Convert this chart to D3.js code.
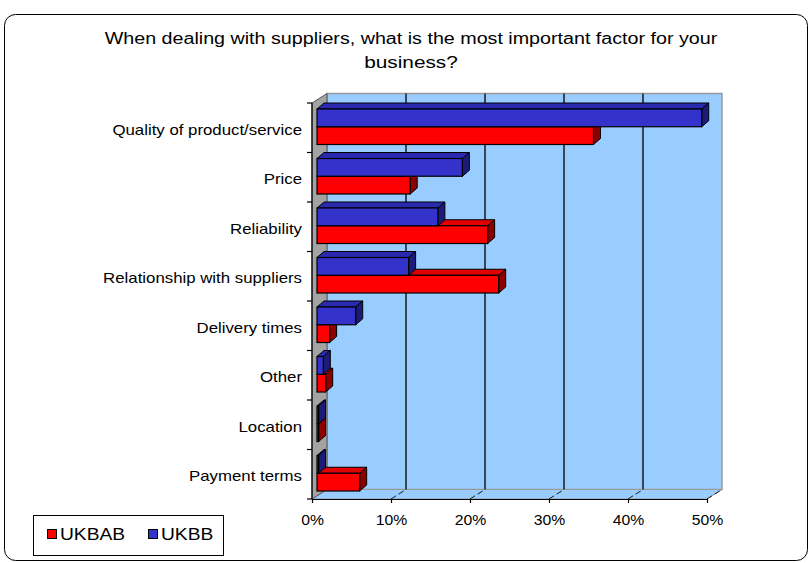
<!DOCTYPE html>
<html><head><meta charset="utf-8">
<script src="https://cdn.jsdelivr.net/npm/d3@7"></script>
<style>
body{margin:0;background:#fff}
svg{display:block}
text{font-family:"Liberation Sans",Arial,sans-serif;fill:#000}
</style>
</head><body>
<svg id="c" width="809" height="563"></svg>
<script>
// ---- data ----
const titleLines = ["When dealing with suppliers, what is the most important factor for your", "business?"];
const categories = ["Quality of product/service", "Price", "Reliability", "Relationship with suppliers", "Delivery times", "Other", "Location", "Payment terms"];
const seriesNames = ["UKBAB", "UKBB"];
const ukbab = [35, 11.8, 21.6, 23, 1.6, 1.1, 0.2, 5.4];
const ukbb  = [48.7, 18.4, 15.3, 11.6, 4.9, 0.8, 0.2, 0.2];
const xTickValues = [0, 10, 20, 30, 40, 50];
const xTickLabels = ["0%", "10%", "20%", "30%", "40%", "50%"];

// ---- styling / layout ----
const colors = {
  UKBAB: {front: "#FF0000", top: "#E00000", side: "#8C0000"},
  UKBB:  {front: "#3333CC", top: "#2A2AB0", side: "#1C1C78"}
};
const svg = d3.select("#c");
const x = d3.scaleLinear().domain([0, 50]).range([312, 707]);
const y = d3.scaleBand().domain(categories).range([103, 499]).padding(0);
const sub = d3.scaleBand().domain(["UKBB", "UKBAB"]).range([6, 41.5]).padding(0);
const D = [15, -9.5];      // wall depth vector
const B = [7, -6];         // bar depth vector
const barShift = 5;        // bar front plane offset in x
const floorY = 499, topY = 103;

function stretch(sel, f) {
  sel.each(function() {
    const w = this.getComputedTextLength();
    d3.select(this).attr("textLength", w * f).attr("lengthAdjust", "spacingAndGlyphs");
  });
}
const poly = pts => "M" + pts.map(p => p.join(",")).join("L") + "Z";

// outer frame
svg.append("rect").attr("x", 4.5).attr("y", 14.5).attr("width", 803).attr("height", 546)
  .attr("rx", 11).attr("fill", "#fff").attr("stroke", "#000").attr("stroke-width", 1);

// title
titleLines.forEach((t, i) => {
  svg.append("text").attr("x", 411).attr("y", 44 + i * 24).attr("text-anchor", "middle")
    .attr("font-size", 16).text(t).call(stretch, i === 0 ? 1.23 : 1.3);
});

// back wall
const x0 = x(0), x1 = x(50);
svg.append("path").attr("d", poly([[x0 + D[0], topY + D[1]], [x1 + D[0], topY + D[1]], [x1 + D[0], floorY + D[1]], [x0 + D[0], floorY + D[1]]]))
  .attr("fill", "#99CCFF").attr("stroke", "#9a9a9a").attr("stroke-width", 1.5);
// floor
svg.append("path").attr("d", poly([[x0, floorY], [x1, floorY], [x1 + D[0], floorY + D[1]], [x0 + D[0], floorY + D[1]]]))
  .attr("fill", "#99CCFF").attr("stroke", "#9a9a9a").attr("stroke-width", 1);
// left side wall
svg.append("path").attr("d", poly([[x0, topY], [x0 + D[0], topY + D[1]], [x0 + D[0], floorY + D[1]], [x0, floorY]]))
  .attr("fill", "#A3A3A3").attr("stroke", "#555").attr("stroke-width", 1);

// gridlines on wall and floor
const grid = xTickValues.filter(v => v > 0 && v < 50);
svg.selectAll(".gw").data(grid).join("line")
  .attr("x1", d => x(d) + D[0]).attr("x2", d => x(d) + D[0])
  .attr("y1", topY + D[1]).attr("y2", floorY + D[1])
  .attr("stroke", "#1a1a1a").attr("stroke-width", 1.5);
svg.selectAll(".gf").data(grid.concat([50])).join("line")
  .attr("x1", d => x(d)).attr("x2", d => x(d) + D[0])
  .attr("y1", floorY).attr("y2", floorY + D[1])
  .attr("stroke", "#1a1a1a").attr("stroke-width", 1).attr("stroke-dasharray", "6,3");

// left front edge with category boundary ticks
svg.append("line").attr("x1", x0).attr("x2", x0).attr("y1", topY).attr("y2", floorY)
  .attr("stroke", "#000").attr("stroke-width", 1.2);
const bounds = categories.map(c => y(c)).concat([y.range()[1]]);
svg.selectAll(".yt").data(bounds).join("line")
  .attr("x1", x0 - 5).attr("x2", x0).attr("y1", d => d).attr("y2", d => d)
  .attr("stroke", "#000").attr("stroke-width", 1.2);

// x axis
const xAxis = d3.axisBottom(x).tickValues(xTickValues)
  .tickFormat((d, i) => xTickLabels[i]).tickSizeInner(4).tickSizeOuter(0);
const gx = svg.append("g").attr("transform", `translate(0,${floorY})`).call(xAxis);
gx.select(".domain").attr("stroke", "#000").attr("stroke-width", 1.2);
gx.selectAll(".tick line").attr("stroke", "#000").attr("stroke-width", 1.2);
gx.selectAll(".tick text").attr("y", 26).attr("dy", 0).attr("font-size", 15)
  .attr("font-family", "Liberation Sans, Arial, sans-serif").attr("fill", "#000").call(stretch, 1.05);

// bars
const xb = v => x(v) + barShift;
const rows = categories.map((c, i) => ({cat: c, vals: {UKBAB: ukbab[i], UKBB: ukbb[i]}}));
const gBars = svg.append("g");
rows.slice().reverse().forEach(r => {
  ["UKBAB", "UKBB"].forEach(s => {
    const v = r.vals[s];
    const a = xb(0), b = xb(v);
    const t = y(r.cat) + sub(s), h = sub.bandwidth();
    const col = colors[s];
    const g = gBars.append("g");
    g.append("path").attr("d", poly([[a, t], [b, t], [b + B[0], t + B[1]], [a + B[0], t + B[1]]]))
      .attr("fill", col.top).attr("stroke", "#000").attr("stroke-width", 1).attr("stroke-linejoin", "round");
    g.append("path").attr("d", poly([[b, t], [b + B[0], t + B[1]], [b + B[0], t + h + B[1]], [b, t + h]]))
      .attr("fill", col.side).attr("stroke", "#000").attr("stroke-width", 1).attr("stroke-linejoin", "round");
    g.append("rect").attr("x", a).attr("y", t).attr("width", Math.max(b - a, 0.5)).attr("height", h)
      .attr("fill", col.front).attr("stroke", "#000").attr("stroke-width", 1.2);
  });
});

// category labels
svg.selectAll(".cl").data(categories).join("text")
  .attr("x", 302).attr("y", d => y(d) + y.bandwidth() / 2 + 7)
  .attr("text-anchor", "end").attr("font-size", 15).text(d => d).call(stretch, 1.12);

// legend
const lg = svg.append("g");
lg.append("rect").attr("x", 33.5).attr("y", 515.5).attr("width", 190).attr("height", 40)
  .attr("fill", "#fff").attr("stroke", "#000").attr("stroke-width", 1);
const legX = [47, 148];
seriesNames.forEach((s, i) => {
  lg.append("rect").attr("x", legX[i] + 0.5).attr("y", 529.5).attr("width", 9).attr("height", 9)
    .attr("fill", colors[s].front).attr("stroke", "#000").attr("stroke-width", 1);
  lg.append("text").attr("x", legX[i] + 13).attr("y", 540).attr("font-size", 16).text(s).call(stretch, 1.2);
});
</script>
</body></html>
